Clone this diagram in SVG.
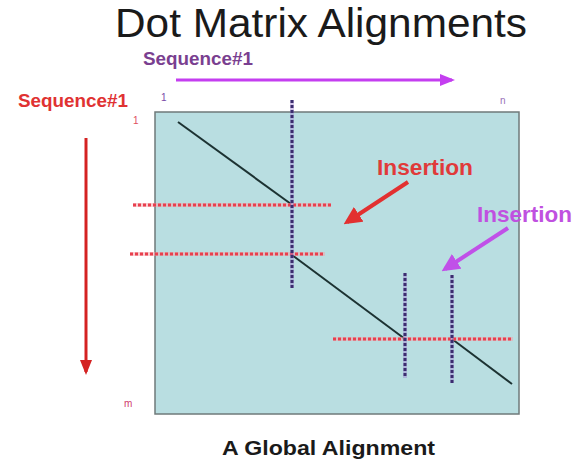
<svg xmlns="http://www.w3.org/2000/svg" width="574" height="462" viewBox="0 0 574 462">
<style>
.title{font-family:"Liberation Sans",Arial,sans-serif;font-size:40px;fill:#1a1a1a}
.lbl{font-family:"Liberation Sans",Arial,sans-serif;font-weight:bold}
.small{font-family:"Liberation Sans",Arial,sans-serif;font-size:10px}
.vdot{stroke:#3b2d6e;stroke-width:3;stroke-dasharray:3 2;fill:none}
.vglow{stroke:#a080d0;stroke-width:4;opacity:0.45;fill:none}
.hdot{stroke:#e8404e;stroke-width:3;stroke-dasharray:3 2;fill:none}
.hglow{stroke:#f4a0a8;stroke-width:4;opacity:0.5;fill:none}
.diag{stroke:#1c3232;stroke-width:2;fill:none}
</style>
<defs>
<marker id="mPurple" markerWidth="5" markerHeight="4" refX="4" refY="2" orient="auto" markerUnits="strokeWidth"><path d="M0,0 L5,2 L0,4 Z" fill="#c43ef0"/></marker>
<marker id="mRed" markerWidth="5" markerHeight="4" refX="4" refY="2" orient="auto" markerUnits="strokeWidth"><path d="M0,0 L5,2 L0,4 Z" fill="#d42222"/></marker>
<marker id="mRed2" markerWidth="4.5" markerHeight="4.4" refX="3.5" refY="2.2" orient="auto" markerUnits="strokeWidth"><path d="M0,0 L4.5,2.2 L0,4.4 Z" fill="#e23030"/></marker>
<marker id="mPurple2" markerWidth="4.5" markerHeight="4.4" refX="3.5" refY="2.2" orient="auto" markerUnits="strokeWidth"><path d="M0,0 L4.5,2.2 L0,4.4 Z" fill="#c050e8"/></marker>
</defs>
<rect width="574" height="462" fill="#ffffff"/>
<text class="title" x="115" y="37" textLength="412" lengthAdjust="spacingAndGlyphs">Dot Matrix Alignments</text>

<g id="matrix">
<rect x="155" y="112" width="364" height="302" fill="#b9dee1" stroke="#6f7a7a" stroke-width="1.5"/>
</g>

<g id="labels">
<text class="lbl" x="143" y="65" font-size="18" fill="#7a3f90" textLength="110" lengthAdjust="spacingAndGlyphs">Sequence#1</text>
<text class="lbl" x="18" y="107" font-size="18" fill="#e03232" textLength="110" lengthAdjust="spacingAndGlyphs">Sequence#1</text>
<text class="small" x="161" y="101" fill="#7a4aa8">1</text>
<text class="small" x="133" y="124" fill="#e05060">1</text>
<text class="small" x="500" y="104" fill="#9a70b8">n</text>
<text class="small" x="124" y="407" fill="#d04070">m</text>
<text class="lbl" x="377" y="175" font-size="22" fill="#e03a3a" textLength="96" lengthAdjust="spacingAndGlyphs">Insertion</text>
<text class="lbl" x="477" y="222" font-size="22" fill="#c050e0" textLength="95" lengthAdjust="spacingAndGlyphs">Insertion</text>
<text class="lbl" x="222" y="455" font-size="21" fill="#1a1a1a" textLength="213" lengthAdjust="spacingAndGlyphs">A Global Alignment</text>
</g>

<g id="connectors">
<line x1="176" y1="80" x2="452" y2="80" stroke="#c43ef0" stroke-width="3" marker-end="url(#mPurple)"/>
<line x1="86" y1="138" x2="86" y2="372" stroke="#d42222" stroke-width="3" marker-end="url(#mRed)"/>
<line x1="408" y1="182" x2="347" y2="222" stroke="#e23030" stroke-width="4" marker-end="url(#mRed2)"/>
<line x1="508" y1="228" x2="445" y2="269" stroke="#c050e8" stroke-width="4" marker-end="url(#mPurple2)"/>
</g>

<g id="alignment">
<line class="diag" x1="178" y1="122" x2="291" y2="204"/>
<line class="diag" x1="292" y1="255" x2="405" y2="339"/>
<line class="diag" x1="452" y1="339" x2="512" y2="384"/>

<line class="hglow" x1="133" y1="205" x2="331" y2="205"/>
<line class="hdot" x1="133" y1="205" x2="331" y2="205"/>
<line class="hglow" x1="130" y1="254" x2="325" y2="254"/>
<line class="hdot" x1="130" y1="254" x2="325" y2="254"/>
<line class="hglow" x1="333" y1="339" x2="513" y2="339"/>
<line class="hdot" x1="333" y1="339" x2="513" y2="339"/>

<line class="vglow" x1="292" y1="100" x2="292" y2="288"/>
<line class="vdot" x1="292" y1="100" x2="292" y2="288"/>
<line class="vglow" x1="405" y1="273" x2="405" y2="378"/>
<line class="vdot" x1="405" y1="273" x2="405" y2="378"/>
<line class="vglow" x1="452" y1="275" x2="452" y2="383"/>
<line class="vdot" x1="452" y1="275" x2="452" y2="383"/>
</g>
</svg>
